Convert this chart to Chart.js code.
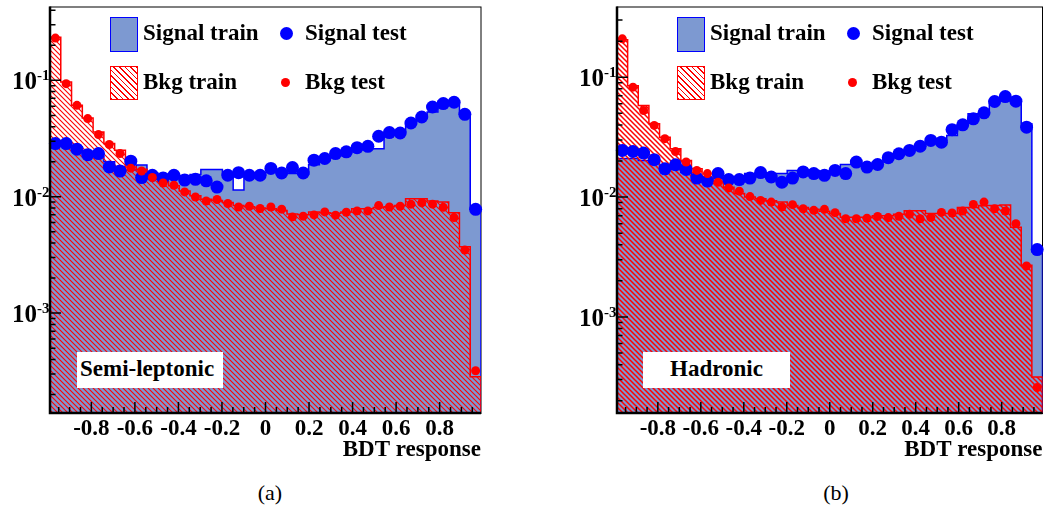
<!DOCTYPE html>
<html>
<head>
<meta charset="utf-8">
<script src="https://cdn.jsdelivr.net/npm/chart.js@4.4.1/dist/chart.umd.min.js"></script>
<style>
  body { margin: 0; background: #fff; width: 1049px; height: 512px; position: relative; overflow: hidden; font-family: "Liberation Serif", "Times New Roman", serif; }
  canvas { position: absolute; top: 0; }
  #cvA { left: 0; }
  #cvB { left: 525px; }
  .txt { position: absolute; font-weight: bold; font-size: 23px; line-height: 22px; white-space: nowrap; color: #000; }
  .sigbox { position: absolute; box-sizing: border-box; width: 28px; height: 35px; background: #7d99d1; border: 1.5px solid #0000ff; }
  .bkgbox { position: absolute; box-sizing: border-box; width: 28px; height: 34px; border: 1.5px solid #ff0000;
            background: repeating-linear-gradient(45deg, #ff0000 0 1px, #fff 1px 4px); }
  .dot { position: absolute; border-radius: 50%; }
  .sigdot { width: 13px; height: 13px; background: #0000ff; }
  .bkgdot { width: 9px; height: 9px; background: #ff0000; }
  .tag { position: absolute; background: #fff; height: 36px; top: 352px; }
  .cap { position: absolute; font-size: 22px; line-height: 22px; top: 482px; width: 60px; text-align: center; }
</style>
</head>
<body>
<canvas id="cvA" width="525" height="470"></canvas>
<canvas id="cvB" width="524" height="470"></canvas>

<!-- legend, panel (a) -->
<div class="sigbox" style="left:110px;top:17px"></div>
<div class="txt" style="left:143px;top:22px">Signal train</div>
<div class="dot sigdot" style="left:280px;top:27px"></div>
<div class="txt" style="left:305px;top:22px">Signal test</div>
<div class="bkgbox" style="left:110px;top:66px"></div>
<div class="txt" style="left:143px;top:71px">Bkg train</div>
<div class="dot bkgdot" style="left:281px;top:78px"></div>
<div class="txt" style="left:305px;top:71px">Bkg test</div>
<div class="tag" style="left:77px;width:146px"></div>
<div class="txt" style="left:80px;top:358px">Semi-leptonic</div>

<!-- legend, panel (b) -->
<div class="sigbox" style="left:677px;top:17px"></div>
<div class="txt" style="left:710px;top:22px">Signal train</div>
<div class="dot sigdot" style="left:847px;top:27px"></div>
<div class="txt" style="left:872px;top:22px">Signal test</div>
<div class="bkgbox" style="left:677px;top:66px"></div>
<div class="txt" style="left:710px;top:71px">Bkg train</div>
<div class="dot bkgdot" style="left:848px;top:78px"></div>
<div class="txt" style="left:872px;top:71px">Bkg test</div>
<div class="tag" style="left:643px;width:147px"></div>
<div class="txt" style="left:643px;width:147px;text-align:center;top:358px">Hadronic</div>

<div class="cap" style="left:240px">(a)</div>
<div class="cap" style="left:806px">(b)</div>

<script>
// binning of the BDT output
const xLo = -0.99, xHi = 0.99, nBins = 40;
const xTickVals = [-0.8, -0.6, -0.4, -0.2, 0, 0.2, 0.4, 0.6, 0.8];
const yLabelExps = [-1, -2, -3];

// semi-leptonic channel
const sigTrainA = [0.0300, 0.0290, 0.0268, 0.0240, 0.0222, 0.0200, 0.0182, 0.0170, 0.0187, 0.0160,
                   0.0155, 0.0150, 0.0152, 0.0155, 0.0171, 0.0171, 0.0156, 0.0114, 0.0150, 0.0155,
                   0.0162, 0.0158, 0.0158, 0.0156, 0.0188, 0.0205, 0.0225, 0.0240, 0.0255, 0.0270,
                   0.0259, 0.0350, 0.0360, 0.0420, 0.0480, 0.0535, 0.0660, 0.0663, 0.0518, 0.0078];
const sigTestA  = [0.0286, 0.0286, 0.0256, 0.0230, 0.0235, 0.0180, 0.0166, 0.0202, 0.0146, 0.0153,
                   0.0145, 0.0153, 0.0139, 0.0141, 0.0137, 0.0121, 0.0153, 0.0161, 0.0153, 0.0153,
                   0.0175, 0.0160, 0.0178, 0.0160, 0.0206, 0.0213, 0.0235, 0.0243, 0.0264, 0.0271,
                   0.0331, 0.0356, 0.0353, 0.0430, 0.0484, 0.0590, 0.0631, 0.0648, 0.0511, 0.0078];
const bkgTrainA = [0.235, 0.0967, 0.0610, 0.0475, 0.0360, 0.0286, 0.0251, 0.0180, 0.0172, 0.0150,
                   0.0135, 0.0124, 0.0112, 0.0102, 0.0095, 0.0093, 0.0089, 0.0084, 0.0082, 0.0080,
                   0.0079, 0.0076, 0.0071, 0.0070, 0.0074, 0.0073, 0.0072, 0.0074, 0.0079, 0.0079,
                   0.0081, 0.0082, 0.0084, 0.0096, 0.0096, 0.0092, 0.0090, 0.00727, 0.00371, 0.000284];
const bkgTestA  = [0.2307, 0.0937, 0.0610, 0.0469, 0.0342, 0.0281, 0.0235, 0.0176, 0.01665, 0.01462,
                   0.01313, 0.01255, 0.0110, 0.00995, 0.0092, 0.00946, 0.00875, 0.00817, 0.00828, 0.00792,
                   0.00817, 0.00782, 0.00671, 0.00681, 0.00698, 0.00741, 0.00694, 0.00736, 0.00755, 0.00755,
                   0.00839, 0.00817, 0.00828, 0.00863, 0.00885, 0.00863, 0.00811, 0.00662, 0.00348, 0.00032];

// hadronic channel
const sigTrainB = [0.0210, 0.0210, 0.0202, 0.0195, 0.0180, 0.0170, 0.0160, 0.0150, 0.0145, 0.0143,
                   0.0143, 0.0145, 0.0157, 0.0157, 0.0157, 0.0157, 0.0167, 0.0167, 0.0167, 0.0165,
                   0.0170, 0.0187, 0.0190, 0.0190, 0.0195, 0.0210, 0.0228, 0.0245, 0.0265, 0.0285,
                   0.0300, 0.0327, 0.0400, 0.0495, 0.0495, 0.0640, 0.0645, 0.0640, 0.0409, 0.0035];
const sigTestB  = [0.0245, 0.0240, 0.0233, 0.0205, 0.0172, 0.0186, 0.0170, 0.0144, 0.0136, 0.0157,
                   0.0140, 0.0140, 0.0144, 0.0160, 0.0147, 0.0133, 0.0144, 0.0162, 0.0157, 0.0152,
                   0.0167, 0.0157, 0.0196, 0.0178, 0.0187, 0.0213, 0.0230, 0.0245, 0.0266, 0.0297,
                   0.0287, 0.0365, 0.0401, 0.0450, 0.0505, 0.0627, 0.0690, 0.0631, 0.0383, 0.00365];
const bkgTrainB = [0.205, 0.085, 0.058, 0.041, 0.0316, 0.0253, 0.0202, 0.0172, 0.0147, 0.0135,
                   0.0121, 0.0107, 0.0100, 0.0097, 0.0093, 0.0091, 0.0085, 0.0082, 0.0079, 0.0076,
                   0.0073, 0.0068, 0.0068, 0.0068, 0.0070, 0.0070, 0.0072, 0.0077, 0.0077, 0.0073,
                   0.0073, 0.0073, 0.0082, 0.0082, 0.0085, 0.0085, 0.0086, 0.0056, 0.0027, 0.000316];
const bkgTestB  = [0.209, 0.0826, 0.0528, 0.0396, 0.0307, 0.0240, 0.0196, 0.0167, 0.0157, 0.0133,
                   0.0119, 0.0112, 0.0101, 0.00938, 0.00908, 0.00826, 0.00865, 0.0080, 0.00775, 0.0079,
                   0.00741, 0.0066, 0.0066, 0.00666, 0.0069, 0.00674, 0.00692, 0.00718, 0.0066, 0.00674,
                   0.00745, 0.00736, 0.00764, 0.00869, 0.00908, 0.0080, 0.00764, 0.0060, 0.00266, 0.000258];

const binW = (xHi - xLo) / nBins;
const edges = Array.from({length: nBins + 1}, (_, i) => xLo + i * binW);

// histogram outline: one point per left bin edge, closed down to the axis on the right
function stepPoints(vals, floor) {
    let pts = vals.map((v, i) => ({x: edges[i], y: v}));
    pts.push({x: edges[nBins], y: vals[nBins - 1]});
    pts.push({x: edges[nBins], y: floor});
    return pts;
}

function centrePoints(vals) {
    return vals.map((v, i) => ({x: (edges[i] + edges[i + 1]) / 2, y: v}));
}

// red "\\\" hatching for the background histogram
function hatch(lw) {
    let c = document.createElement('canvas');
    c.width = 5; c.height = 5;
    let g = c.getContext('2d');
    g.strokeStyle = '#ff0000';
    g.lineWidth = lw;
    g.beginPath();
    g.moveTo(-1, -1); g.lineTo(6, 6);
    g.moveTo(-1, 4); g.lineTo(1, 6);
    g.moveTo(4, -1); g.lineTo(6, 1);
    g.stroke();
    return g.createPattern(c, 'repeat');
}

// ROOT-like frame: inward ticks, heavy left/bottom axis, 10^n labels
const rootAxes = {
    id: 'rootAxes',
    beforeDatasetsDraw(chart) {
        const {ctx, chartArea: a} = chart;
        ctx.save();
        ctx.strokeStyle = '#000';
        ctx.lineWidth = 1;
        ctx.strokeRect(a.left, a.top + 0.5, a.right - a.left, a.bottom - a.top);
        ctx.restore();
    },
    afterDatasetsDraw(chart) {
        const {ctx, chartArea: a, scales: {x, y}} = chart;
        ctx.save();
        ctx.strokeStyle = '#000';
        ctx.lineWidth = 1.5;
        ctx.beginPath();
        for (let k = -19; k <= 19; k++) {
            let px = x.getPixelForValue(k * 0.05);
            let len = (k % 4 === 0) ? 11 : 6;
            ctx.moveTo(px, a.bottom);
            ctx.lineTo(px, a.bottom - len);
        }
        for (let d = -4; d <= 0; d++) {
            for (let m = 1; m <= 9; m++) {
                let v = m * Math.pow(10, d);
                if (v < y.min || v > y.max) continue;
                let py = y.getPixelForValue(v);
                ctx.moveTo(a.left, py);
                ctx.lineTo(a.left + (m === 1 ? 11 : 5.5), py);
            }
        }
        ctx.stroke();

        ctx.lineWidth = 2.5;
        ctx.beginPath();
        ctx.moveTo(a.left, a.top);
        ctx.lineTo(a.left, a.bottom);
        ctx.lineTo(a.right, a.bottom);
        ctx.stroke();

        ctx.fillStyle = '#000';
        ctx.textBaseline = 'alphabetic';
        yLabelExps.forEach(e => {
            let py = y.getPixelForValue(Math.pow(10, e));
            ctx.font = 'bold 25px "Liberation Serif"';
            ctx.textAlign = 'right';
            ctx.fillText('10', a.left - 13, py + 9);
            ctx.font = 'bold 15px "Liberation Serif"';
            ctx.textAlign = 'left';
            ctx.fillText(String(e), a.left - 13, py);
        });
        ctx.restore();
    }
};

function makePanel(id, sigTrain, sigTest, bkgTrain, bkgTest, yMin, yMax, pad, hatchW) {
    let ctx = document.getElementById(id).getContext('2d');
    let font = {family: 'Liberation Serif', weight: 'bold', size: 23};
    return new Chart(ctx, {
        type: 'line',
        data: {
            datasets: [{
                label: 'Signal train',
                data: stepPoints(sigTrain, yMin),
                stepped: true,
                fill: 'start',
                backgroundColor: '#7d99d1',
                borderColor: '#0000ff',
                borderWidth: 1.5,
                pointRadius: 0,
                order: 4
            }, {
                label: 'Bkg train',
                data: stepPoints(bkgTrain, yMin),
                stepped: true,
                fill: 'start',
                backgroundColor: hatch(hatchW),
                borderColor: '#ff0000',
                borderWidth: 1.5,
                pointRadius: 0,
                order: 3
            }, {
                label: 'Signal test',
                data: centrePoints(sigTest),
                showLine: false,
                pointRadius: 6.5,
                pointBorderWidth: 0,
                pointBackgroundColor: '#0000ff',
                clip: false,
                order: 2
            }, {
                label: 'Bkg test',
                data: centrePoints(bkgTest),
                showLine: false,
                pointRadius: 4.5,
                pointBorderWidth: 0,
                pointBackgroundColor: '#ff0000',
                clip: false,
                order: 1
            }]
        },
        options: {
            responsive: false,
            animation: false,
            devicePixelRatio: 1,
            events: [],
            layout: {padding: pad},
            scales: {
                x: {
                    type: 'linear',
                    min: xLo,
                    max: xHi,
                    afterBuildTicks: s => { s.ticks = xTickVals.map(v => ({value: v})); },
                    afterFit: s => { s.height = 57; },
                    grid: {display: false, drawTicks: false},
                    border: {display: false},
                    ticks: {
                        color: '#000',
                        font: font,
                        padding: 2,
                        maxRotation: 0,
                        autoSkip: false,
                        callback: v => (v === 0 ? '0' : v.toFixed(1))
                    },
                    title: {
                        display: true,
                        text: 'BDT response',
                        align: 'end',
                        color: '#000',
                        font: font,
                        padding: {top: 0, bottom: 6}
                    }
                },
                y: {
                    type: 'logarithmic',
                    min: yMin,
                    max: yMax,
                    display: false
                }
            },
            plugins: {
                legend: {display: false},
                tooltip: {enabled: false}
            }
        },
        plugins: [rootAxes]
    });
}

makePanel('cvA', sigTrainA, sigTestA, bkgTrainA, bkgTestA, 1.386e-4, 0.431,
          {left: 50, right: 44, top: 6, bottom: 0}, 1.1);
makePanel('cvB', sigTrainB, sigTestB, bkgTrainB, bkgTestB, 1.58e-4, 0.389,
          {left: 92, right: 2, top: 6, bottom: 0}, 1.5);
</script>
</body>
</html>
